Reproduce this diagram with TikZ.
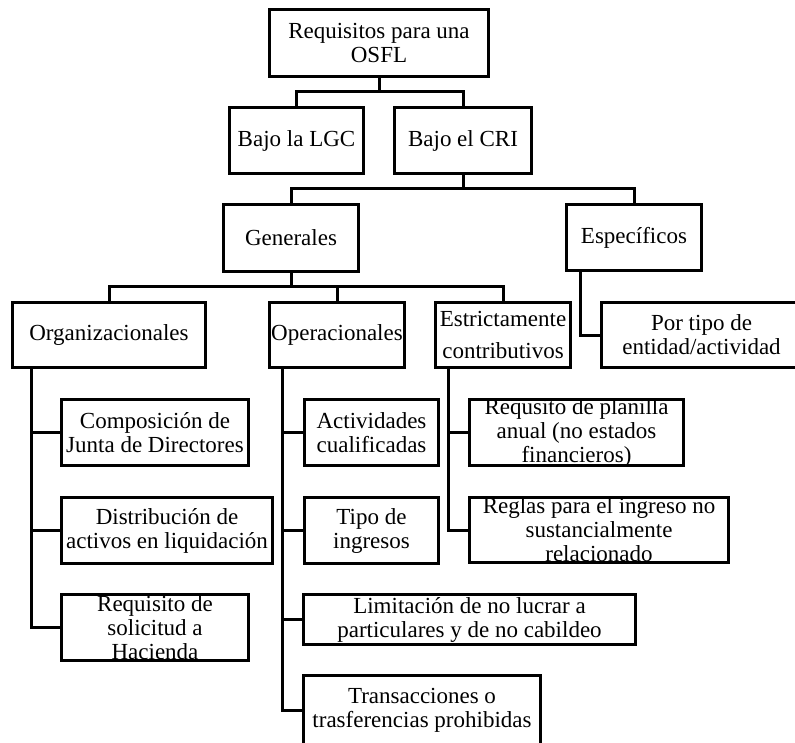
\documentclass[tikz,border=0pt]{standalone}
\usepackage{fontspec}
\setmainfont{Liberation Serif}
\begin{document}
\begin{tikzpicture}[x=1pt,y=-1pt,
  box/.style={draw=black,line width=3pt,inner sep=0pt,fill=white,font=\fontsize{23}{24}\selectfont},
  conn/.style={draw=black,line width=3pt,line join=miter}]
\useasboundingbox[fill=white] (0,0) rectangle (795,743);
\newcommand\obox[6]{%
  \node[box] (#1) at ({(#2+#4)/2},{(#3+#5)/2})
    {\parbox[c][\dimexpr#5pt-#3pt-3pt\relax][c]{\dimexpr#4pt-#2pt-3pt\relax}{\centering #6\par}};}
% level 0-1
\obox{top}{268}{8}{490}{78}{Requisitos para una\\OSFL}
\obox{lgc}{228}{106}{365}{175}{Bajo la LGC}
\obox{cri}{393}{106}{533}{175}{Bajo el CRI}
% level 2
\obox{gen}{222}{203}{360}{273}{Generales}
\obox{esp}{565}{203}{703}{272}{Específicos}
% level 3
\obox{org}{11}{301}{207}{369}{Organizacionales}
\obox{ope}{268}{301}{406}{369}{Operacionales}
\obox{est}{434}{301}{572}{369}{Estrictamente\\[8pt]contributivos}
\obox{por}{600}{301}{803}{369}{Por tipo de\\entidad/actividad}
% leaves
\obox{comp}{60}{398}{250}{467}{Composición de\\Junta de Directores}
\obox{dist}{60}{496}{274}{565}{Distribución de\\activos en liquidación}
\obox{sol}{60}{593}{250}{662}{Requisito de\\solicitud a\\Hacienda}
\obox{act}{303}{398}{440}{467}{Actividades\\cualificadas}
\obox{tipo}{303}{496}{440}{565}{Tipo de\\ingresos}
\obox{lim}{302}{593}{637}{646}{Limitación de no lucrar a\\particulares y de no cabildeo}
\obox{tra}{302}{674}{542}{746}{Transacciones o\\trasferencias prohibidas}
\obox{req}{468}{398}{685}{467}{Requsito de planilla\\anual (no estados\\financieros)}
\obox{reg}{468}{496}{730}{564}{Reglas para el ingreso no\\sustancialmente\\relacionado}
% tree connectors
\draw[conn] (top.south) -- ++(0,14) coordinate (j1);
\draw[conn] (lgc.north) |- (j1) -| (cri.north);
\draw[conn] (cri.south) -- ++(0,14) coordinate (j2);
\draw[conn] (gen.north) |- (j2) -| (esp.north);
\draw[conn] (gen.south) -- ++(0,14) coordinate (j3);
\draw[conn] (org.north) |- (j3) -| (est.north);
\draw[conn] (ope.north) -- (ope.north |- j3);
% spines
\draw[conn] ([xshift=20pt]org.south west) |- (comp.west);
\draw[conn] ([xshift=20pt]org.south west) |- (dist.west);
\draw[conn] ([xshift=20pt]org.south west) |- (sol.west);
\draw[conn] ([xshift=14pt]ope.south west) |- (act.west);
\draw[conn] ([xshift=14pt]ope.south west) |- (tipo.west);
\draw[conn] ([xshift=14pt]ope.south west) |- (lim.west);
\draw[conn] ([xshift=14pt]ope.south west) |- (tra.west);
\draw[conn] ([xshift=14pt]est.south west) |- (req.west);
\draw[conn] ([xshift=14pt]est.south west) |- (reg.west);
\draw[conn] ([xshift=15pt]esp.south west) |- (por.west);
\end{tikzpicture}
\end{document}
